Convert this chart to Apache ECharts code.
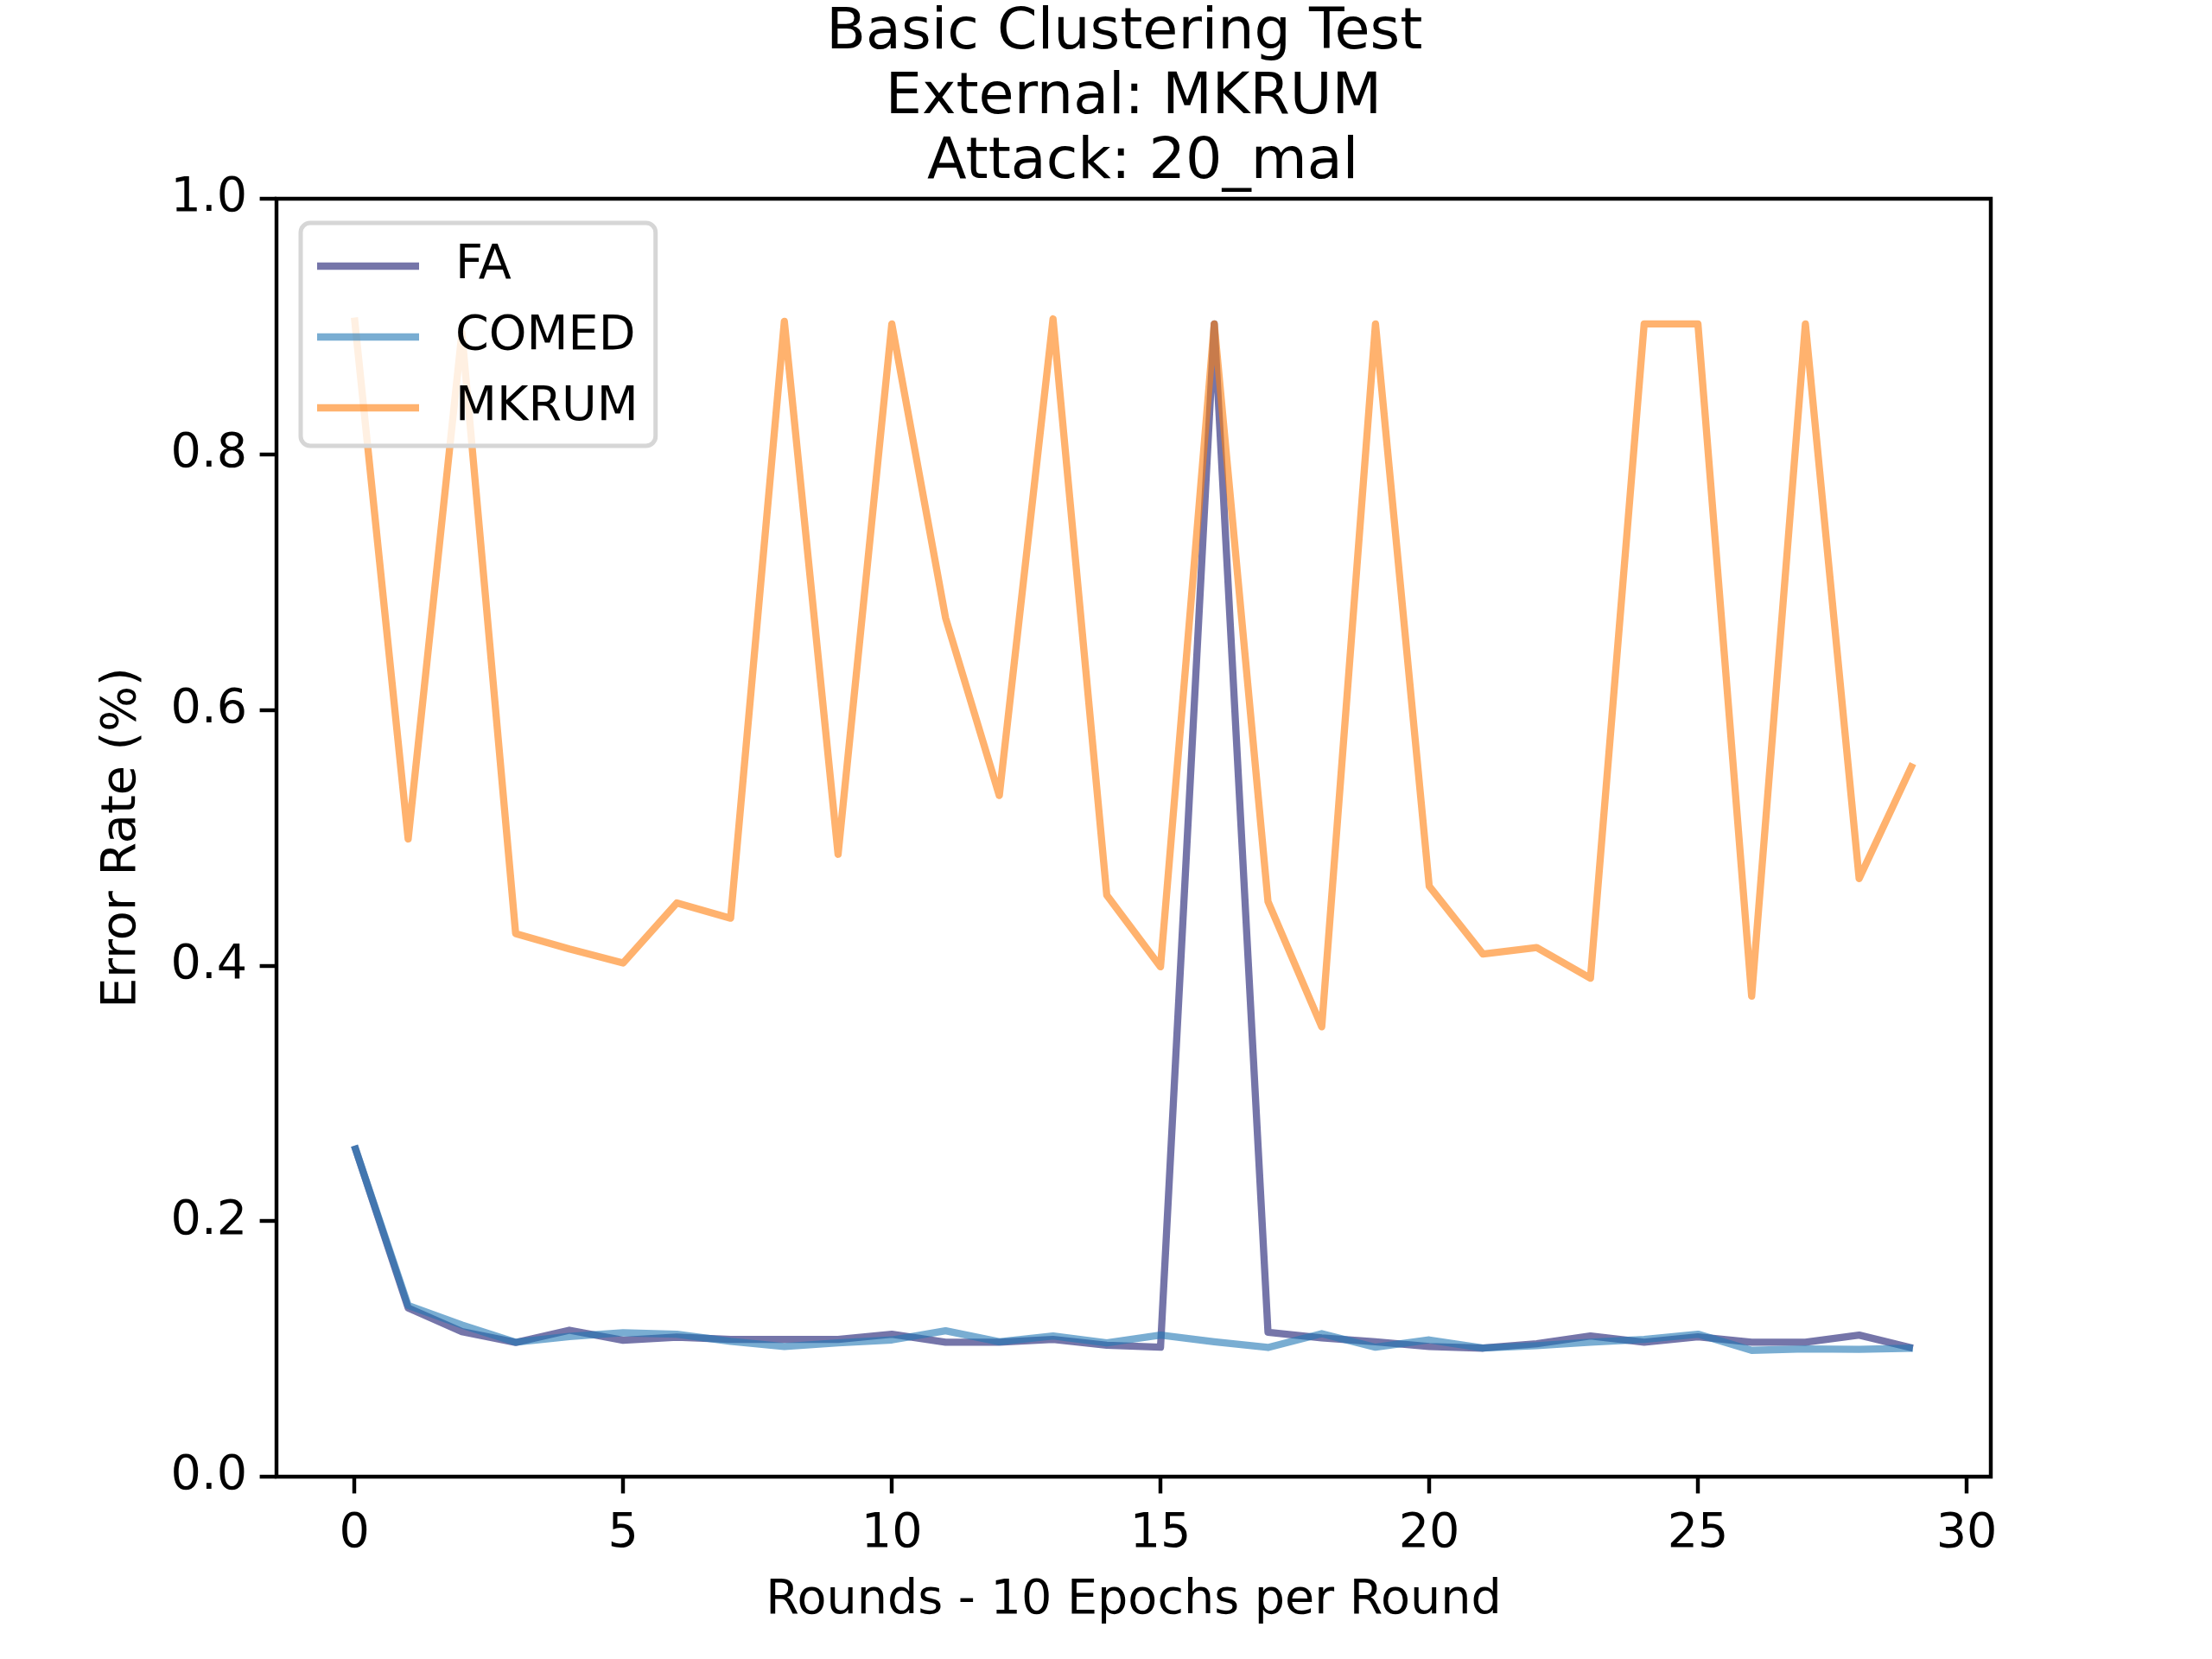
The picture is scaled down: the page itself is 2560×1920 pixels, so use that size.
<!DOCTYPE html>
<html>
<head>
<meta charset="utf-8">
<script src="https://cdn.jsdelivr.net/npm/echarts@6/dist/echarts.min.js"></script>
<style>
  html, body { margin: 0; padding: 0; background: #fff; }
  #chart { width: 2560px; height: 1920px; }
</style>
</head>
<body>
<div id="chart"></div>
<script>
// Data
const rounds = [0, 1, 2, 3, 4, 5, 6, 7, 8, 9, 10, 11, 12, 13, 14, 15, 16, 17, 18, 19, 20, 21, 22, 23, 24, 25, 26, 27, 28, 29];
const faErr = [0.259, 0.132, 0.1135, 0.105, 0.1146, 0.1067, 0.1092, 0.1074, 0.1074, 0.1074,
  0.1115, 0.1052, 0.1052, 0.1074, 0.1029, 0.1013, 0.902, 0.113, 0.1086, 0.1056,
  0.1018, 0.1006, 0.104, 0.1101, 0.1052, 0.1095, 0.1052, 0.1052, 0.1108, 0.1006];
const comedErr = [0.259, 0.134, 0.1187, 0.1052, 0.1097, 0.1126, 0.1115, 0.1059, 0.1018, 0.1047,
  0.107, 0.1142, 0.1056, 0.1101, 0.1047, 0.1108, 0.1056, 0.1011, 0.1119, 0.1013,
  0.107, 0.1006, 0.1025, 0.1052, 0.1074, 0.1115, 0.0989, 0.1, 0.0996, 0.1006];
const mkrumErr = [0.907, 0.499, 0.895, 0.425, 0.413, 0.402, 0.449, 0.437, 0.904, 0.487,
  0.902, 0.672, 0.533, 0.906, 0.455, 0.399, 0.902, 0.450, 0.352, 0.902,
  0.462, 0.409, 0.414, 0.390, 0.902, 0.902, 0.376, 0.902, 0.468, 0.558];
const xTicks = [0, 5, 10, 15, 20, 25, 30];

const font = 'DejaVu Sans';
const fs = 55.6;          // 10pt at 400 dpi
const lw = 8.33;          // 1.5pt
const spine = 4.44;       // 0.8pt

function pairs(vals) {
  return rounds.map((r, i) => [r, vals[i]]);
}

function lineSeries(name, color, vals) {
  return {
    name: name,
    type: 'line',
    data: pairs(vals),
    symbol: 'none',
    color: color,
    lineStyle: { color: color, width: lw, opacity: 0.6, join: 'round', cap: 'butt' },
    emphasis: { disabled: true },
    animation: false
  };
}

// legend handles: plain thick strokes, same 0.6 alpha as the lines
function legendItem(name, rgba) {
  return { name: name, icon: 'rect', itemStyle: { color: rgba, opacity: 1 } };
}

var chart = echarts.init(document.getElementById('chart'), null, { renderer: 'canvas' });

option = {
  backgroundColor: '#ffffff',
  animation: false,
  title: {
    text: 'Basic Clustering Test \n External: MKRUM \n Attack: 20_mal',
    left: 1307,
    top: -4,
    textAlign: 'center',
    textStyle: {
      fontFamily: font,
      fontSize: 66.7,
      fontWeight: 'normal',
      color: '#000',
      lineHeight: 75
    }
  },
  legend: {
    orient: 'vertical',
    left: 348,
    top: 258,
    padding: [21, 20, 15, 19],
    itemGap: 24,
    itemWidth: 118,
    itemHeight: 8.33,
    backgroundColor: 'rgba(255,255,255,0.8)',
    borderColor: '#d6d6d6',
    borderWidth: 5,
    borderRadius: 11,
    textStyle: {
      fontFamily: font,
      fontSize: fs,
      color: '#000',
      lineHeight: 58,
      padding: [0, 0, 0, 37]
    },
    data: [
      legendItem('FA', 'rgba(25,25,112,0.6)'),
      legendItem('COMED', 'rgba(31,119,180,0.6)'),
      legendItem('MKRUM', 'rgba(255,127,14,0.6)')
    ]
  },
  grid: {
    left: 320,
    right: 256,
    top: 230,
    bottom: 211,
    show: true,
    borderColor: '#000',
    borderWidth: spine,
    backgroundColor: 'transparent',
    outerBoundsMode: 'none'
  },
  xAxis: {
    type: 'value',
    min: -1.45,
    max: 30.45,
    name: 'Rounds - 10 Epochs per Round',
    nameLocation: 'middle',
    nameGap: 116,
    nameTextStyle: { fontFamily: font, fontSize: fs, color: '#000' },
    axisLine: { show: false, onZero: false },
    splitLine: { show: false },
    axisTick: {
      show: true,
      inside: false,
      length: 19.4,
      lineStyle: { color: '#000', width: spine },
      customValues: xTicks
    },
    axisLabel: {
      fontFamily: font,
      fontSize: fs,
      color: '#000',
      margin: 39,
      customValues: xTicks
    }
  },
  yAxis: {
    type: 'value',
    min: 0,
    max: 1,
    interval: 0.2,
    name: 'Error Rate (%)',
    nameLocation: 'middle',
    nameRotate: 90,
    nameGap: 150,
    nameTextStyle: { fontFamily: font, fontSize: fs, color: '#000' },
    axisLine: { show: false, onZero: false },
    splitLine: { show: false },
    axisTick: {
      show: true,
      inside: false,
      length: 19.4,
      lineStyle: { color: '#000', width: spine }
    },
    axisLabel: {
      fontFamily: font,
      fontSize: fs,
      color: '#000',
      margin: 34,
      formatter: function (v) { return v.toFixed(1); }
    }
  },
  series: [
    lineSeries('FA', '#191970', faErr),
    lineSeries('COMED', '#1f77b4', comedErr),
    lineSeries('MKRUM', '#ff7f0e', mkrumErr)
  ]
};

chart.setOption(option);
</script>
</body>
</html>
